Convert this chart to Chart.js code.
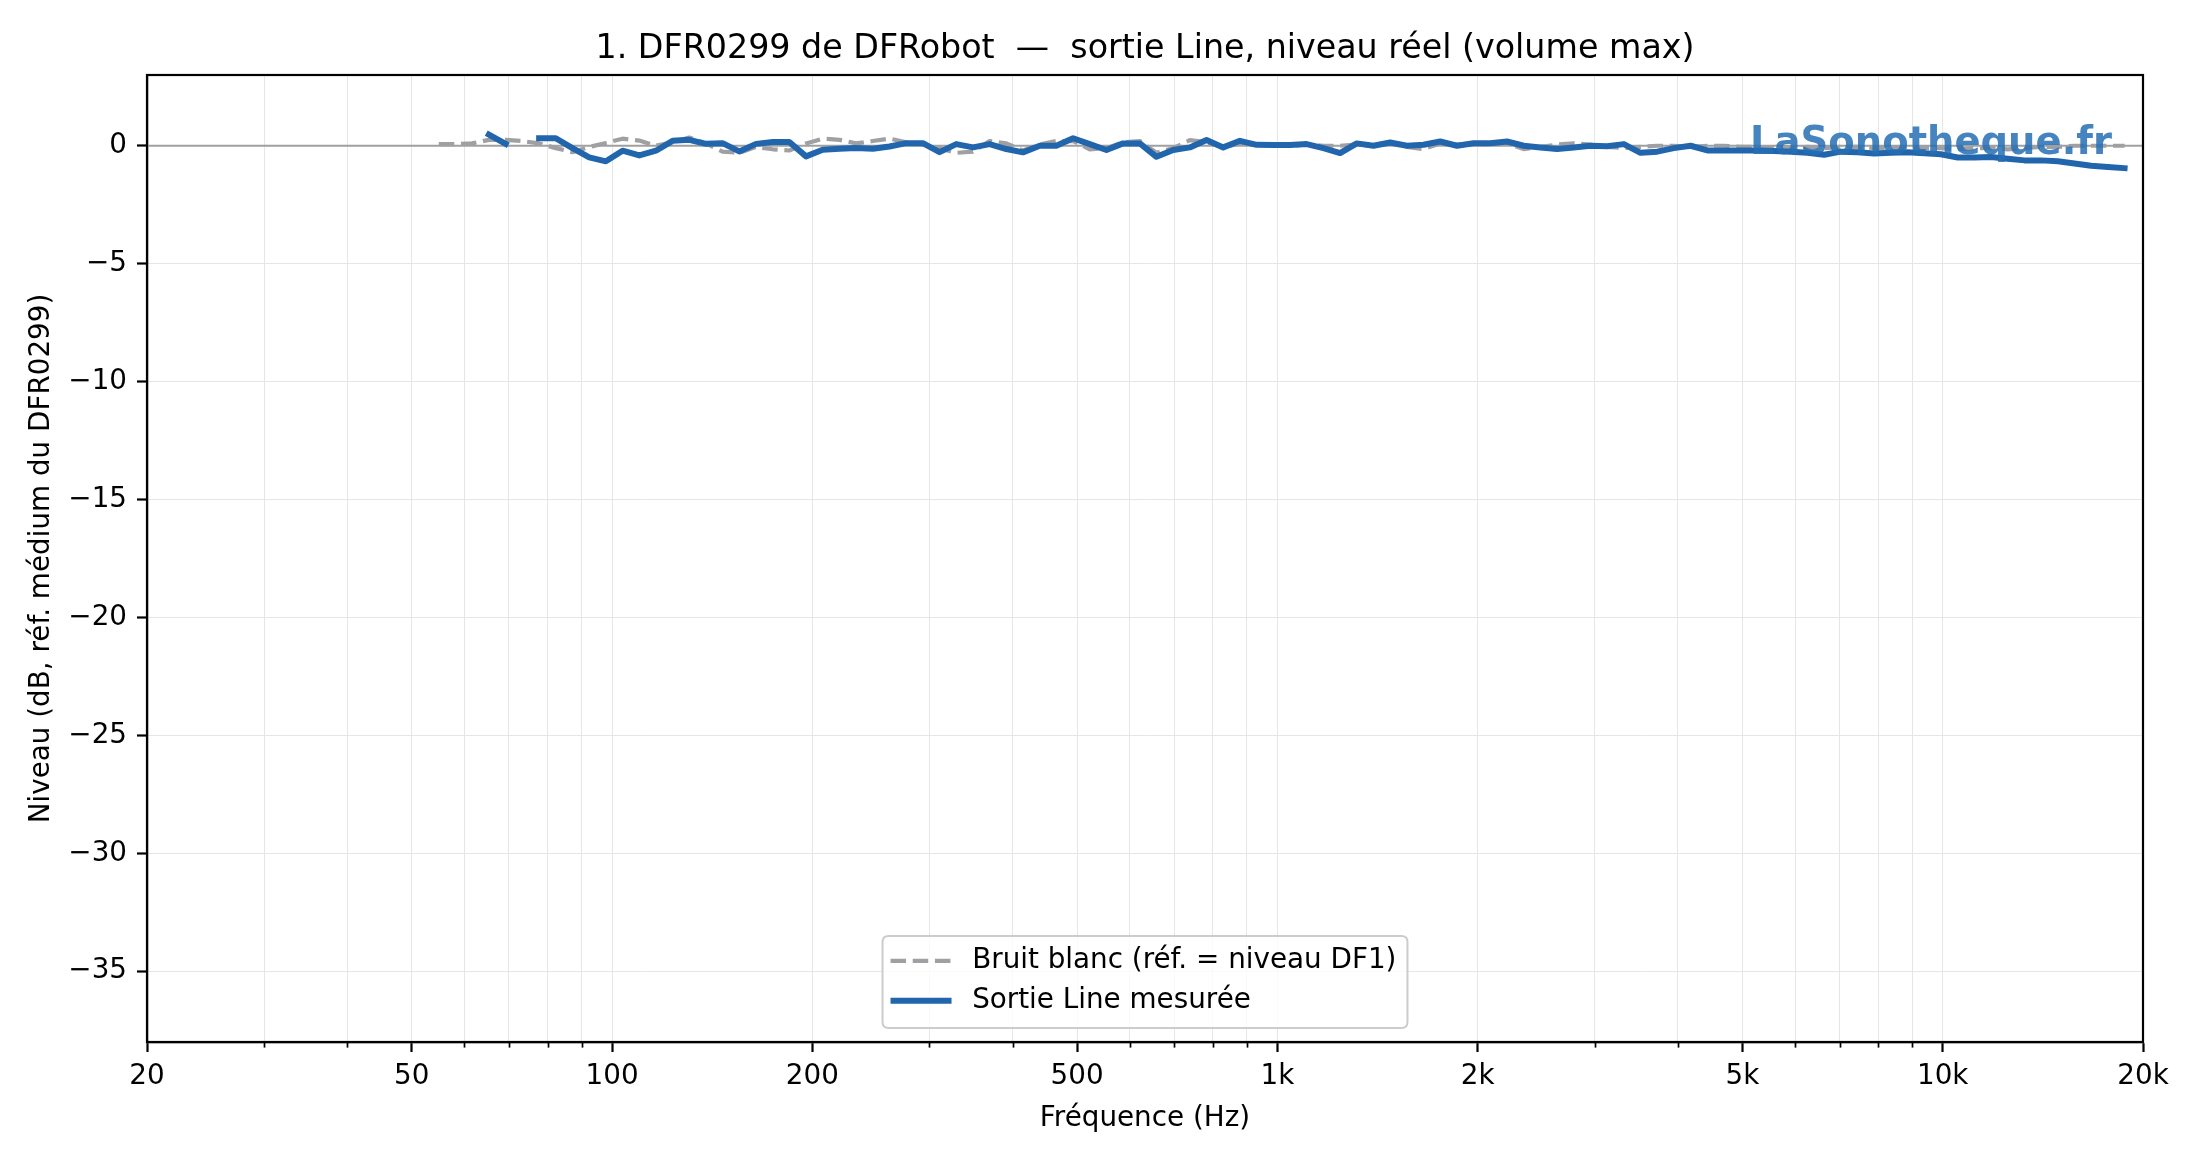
<!DOCTYPE html>
<html><head><meta charset="utf-8">
<script src="https://cdn.jsdelivr.net/npm/chart.js@4.4.1/dist/chart.umd.min.js"></script>
<style>html,body{margin:0;padding:0;background:#fff}canvas{display:block}</style>
</head><body>
<canvas id="c" width="2200" height="1160"></canvas>
<script>
// ---- data ----
const freqHz = [54.9,58.2,61.6,65.3,69.2,73.3,77.7,82.3,87.2,92.4,97.9,103.7,109.9,116.4,123.3,130.6,138.4,146.6,155.3,164.6,174.4,184.7,195.7,207.3,219.7,232.7,246.6,261.2,276.8,293.2,310.6,329.1,348.7,369.4,391.4,414.6,439.3,465.4,493.1,522.4,553.4,586.3,621.2,658.1,697.3,738.7,782.6,829.2,878.5,930.7,986.1,1044.7,1106.8,1172.6,1242.4,1316.2,1394.5,1477.4,1565.3,1658.3,1757,1861.4,1972.1,2089.4,2213.6,2345.2,2484.7,2632.5,2789,2954.9,3130.6,3316.8,3514,3723,3944.4,4179,4427.4,4690.7,4969.7,5265.2,5578.3,5910,6261.5,6633.8,7028.3,7446.2,7889,8358.2,8855.2,9381.8,9939.7,10530.8,11157,11820.4,12523.3,13268,14057,14893,15778.7,16717,17711,18764];

const whiteNoiseDb = [0.07,0.07,0.1,0.25,0.25,0.2,0.1,-0.1,-0.27,-0.05,0.12,0.3,0.22,0.0,0.15,0.35,0.1,-0.25,-0.3,-0.05,-0.15,-0.2,0.1,0.3,0.25,0.1,0.2,0.3,0.15,0.05,-0.1,-0.3,-0.25,0.2,
  0.1,-0.2,0.05,0.2,0.2,-0.15,-0.1,0.15,0.2,-0.3,-0.1,0.24,0.15,-0.07,0.1,0.05,0.0,0.0,0.05,0.0,0.0,0.05,0.0,0.1,-0.05,-0.14,0.1,0.05,0.1,0.05,0.1,-0.14,-0.05,0.05,0.1,0.05,
  -0.05,-0.1,-0.05,0.0,0.0,-0.05,0.0,0.0,-0.05,-0.05,-0.1,-0.1,-0.05,-0.1,-0.05,-0.05,-0.1,-0.1,-0.05,-0.1,-0.1,-0.15,-0.1,-0.1,-0.15,-0.1,-0.05,-0.05,0.0,0.0,0.0,0.0];

const lineOutDb = [null,null,null,0.47,0.08,null,0.32,0.32,-0.1,-0.49,-0.66,-0.21,-0.41,-0.21,0.21,0.25,0.08,0.11,-0.24,0.08,0.16,0.16,-0.45,-0.17,-0.13,-0.1,-0.13,-0.03,0.11,0.11,-0.27,0.07,-0.07,0.07,
  -0.14,-0.28,0,0,0.32,0.07,-0.18,0.1,0.1,-0.47,-0.18,-0.07,0.24,-0.07,0.21,0.04,0.03,0.03,0.07,-0.1,-0.31,0.1,0,0.14,0,0.04,0.18,0,0.11,0.11,0.18,0,-0.07,-0.14,-0.07,0,
  -0.02,0.07,-0.3,-0.25,-0.1,0,-0.2,-0.2,-0.2,-0.2,-0.22,-0.25,-0.3,-0.38,-0.25,-0.28,-0.33,-0.3,-0.28,-0.32,-0.36,-0.5,-0.5,-0.48,-0.55,-0.62,-0.62,-0.66,-0.75,-0.85,-0.9,-0.95];

const xTickValues = [20,30,40,50,60,70,80,90,100,200,300,400,500,600,700,800,900,1000,2000,3000,4000,5000,6000,7000,8000,9000,10000,20000];
const xMajorLabels = {20:'20',50:'50',100:'100',200:'200',500:'500',1000:'1k',2000:'2k',5000:'5k',10000:'10k',20000:'20k'};
const yTickValues = [-35,-30,-25,-20,-15,-10,-5,0];

const titleText = '1. DFR0299 de DFRobot  —  sortie Line, niveau réel (volume max)';
const xTitle = 'Fréquence (Hz)';
const yTitle = 'Niveau (dB, réf. médium du DFR0299)';
const seriesNames = ['Bruit blanc (réf. = niveau DF1)', 'Sortie Line mesurée'];
const watermarkText = 'LaSonotheque.fr';

// ---- styles ----
const FAM = "'DejaVu Sans', sans-serif";
const FS = 27.8;
const GRAY = '#a0a0a4';
const BLUE = '#2166ac';
const DASH = [15.5, 6.7];

const toPts = (arr) => freqHz.map((f, i) => ({x: f, y: arr[i]}));

const deco = {
  id: 'deco',
  afterDatasetsDraw(chart) {
    const {ctx, chartArea: a} = chart;
    ctx.save();
    ctx.font = `bold 38.5px ${FAM}`;
    ctx.fillStyle = 'rgba(38,110,180,0.85)';
    ctx.textAlign = 'right';
    ctx.textBaseline = 'alphabetic';
    ctx.fillText(watermarkText, a.right - 31, a.top + 79);
    ctx.restore();
  },
  afterDraw(chart) {
    const {ctx, chartArea: a} = chart;
    const xs = chart.scales.x;
    ctx.save();
    // title, centred over the plot area
    ctx.font = `33.3px ${FAM}`;
    ctx.fillStyle = '#000'; ctx.textAlign = 'center'; ctx.textBaseline = 'middle';
    ctx.fillText(titleText, (a.left + a.right) / 2, a.top - 26);
    // minor ticks
    ctx.strokeStyle = '#000';
    ctx.lineWidth = 1.7;
    xTickValues.forEach(v => {
      if (xMajorLabels[v] !== undefined) return;
      const px = Math.round(xs.getPixelForValue(v)) + 0.5;
      ctx.beginPath(); ctx.moveTo(px, a.bottom); ctx.lineTo(px, a.bottom + 5.6); ctx.stroke();
    });
    // frame
    ctx.lineWidth = 2.2;
    ctx.strokeRect(a.left, a.top, a.right - a.left, a.bottom - a.top);
    // legend
    ctx.font = `${FS}px ${FAM}`;
    const tw = Math.max(...seriesNames.map(s => ctx.measureText(s).width));
    const bw = 8 + 61 + 20.6 + tw + 11;
    const bh = 92;
    const cx = (a.left + a.right) / 2;
    const bl = cx - bw / 2, bb = a.bottom - 13.9, bt = bb - bh;
    const r = 6;
    ctx.beginPath();
    ctx.moveTo(bl + r, bt); ctx.lineTo(bl + bw - r, bt); ctx.quadraticCurveTo(bl + bw, bt, bl + bw, bt + r);
    ctx.lineTo(bl + bw, bb - r); ctx.quadraticCurveTo(bl + bw, bb, bl + bw - r, bb);
    ctx.lineTo(bl + r, bb); ctx.quadraticCurveTo(bl, bb, bl, bb - r);
    ctx.lineTo(bl, bt + r); ctx.quadraticCurveTo(bl, bt, bl + r, bt); ctx.closePath();
    ctx.fillStyle = 'rgba(255,255,255,0.8)'; ctx.fill();
    ctx.strokeStyle = '#cccccc'; ctx.lineWidth = 2; ctx.stroke();
    const rows = [bt + 24.7, bt + 64.7];
    const dsets = chart.data.datasets;
    [0, 1].forEach(k => {
      const d = dsets[k];
      ctx.beginPath();
      ctx.setLineDash(d.borderDash || []);
      ctx.lineCap = 'butt';
      ctx.strokeStyle = d.borderColor; ctx.lineWidth = d.borderWidth;
      ctx.moveTo(bl + 8, rows[k]); ctx.lineTo(bl + 69, rows[k]); ctx.stroke();
      ctx.setLineDash([]);
      ctx.fillStyle = '#000'; ctx.textAlign = 'left'; ctx.textBaseline = 'middle';
      ctx.fillText(d.label, bl + 89.6, rows[k]);
    });
    ctx.restore();
  }
};

new Chart(document.getElementById('c'), {
  type: 'line',
  data: {
    datasets: [
      { label: seriesNames[0], data: toPts(whiteNoiseDb), borderColor: GRAY, borderWidth: 4.2, borderDash: DASH,
        borderCapStyle: 'butt', borderJoinStyle: 'round', pointRadius: 0, tension: 0, spanGaps: false, order: 2 },
      { label: seriesNames[1], data: toPts(lineOutDb), borderColor: BLUE, borderWidth: 6,
        borderCapStyle: 'square', borderJoinStyle: 'round', pointRadius: 0, tension: 0, spanGaps: false, order: 1 },
      { label: 'zero', data: [{x: 20, y: 0}, {x: 20000, y: 0}], borderColor: '#a0a0a0', borderWidth: 1.8,
        pointRadius: 0, tension: 0, order: 3 }
    ]
  },
  options: {
    responsive: false, animation: false, devicePixelRatio: 1, parsing: true,
    layout: { padding: { left: 0, right: 57, top: 75, bottom: 0 } },
    plugins: {
      legend: { display: false }, tooltip: { enabled: false }, title: { display: false }
    },
    scales: {
      x: {
        type: 'logarithmic', min: 20, max: 20000, position: 'bottom',
        afterBuildTicks: (s) => { s.ticks = xTickValues.map(v => ({ value: v, major: xMajorLabels[v] !== undefined })); },
        afterFit: (s) => { s.height = 118; },
        ticks: { autoSkip: false, maxRotation: 0, minRotation: 0, color: '#000', padding: 8,
          font: { family: FAM, size: FS },
          callback: (v) => (xMajorLabels[v] !== undefined ? xMajorLabels[v] : '') },
        grid: { color: '#e6e6e6', lineWidth: 1, drawTicks: true, tickLength: 10, tickWidth: 2.2,
          tickColor: (c) => (c.tick && xMajorLabels[c.tick.value] !== undefined ? '#000' : 'rgba(0,0,0,0)') },
        border: { display: true, color: '#000', width: 2.2 },
        title: { display: true, text: xTitle, color: '#000', font: { family: FAM, size: FS }, padding: { top: 0, bottom: 25 } }
      },
      y: {
        type: 'linear', min: -38, max: 3, position: 'left',
        afterBuildTicks: (s) => { s.ticks = yTickValues.map(v => ({ value: v })); },
        afterFit: (s) => { s.width = 147; },
        ticks: { autoSkip: false, color: '#000', padding: 10, font: { family: FAM, size: FS },
          callback: (v) => (v < 0 ? '\u2212' + Math.abs(v) : String(v)) },
        grid: { color: '#e6e6e6', lineWidth: 1, drawTicks: true, tickLength: 10, tickWidth: 2.2, tickColor: '#000' },
        border: { display: true, color: '#000', width: 2.2 },
        title: { display: true, text: yTitle, color: '#000', font: { family: FAM, size: FS }, padding: { top: 25.3, bottom: 0 } }
      }
    }
  },
  plugins: [deco]
});
</script>
</body></html>
